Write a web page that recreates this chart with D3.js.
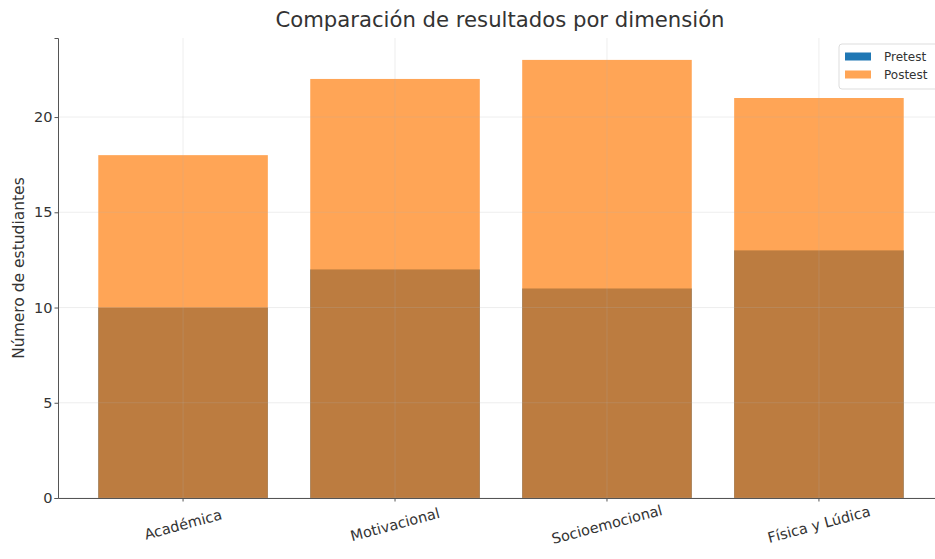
<!DOCTYPE html>
<html>
<head>
<meta charset="utf-8">
<script src="https://cdn.jsdelivr.net/npm/d3@7"></script>
<style>
  body { margin: 0; background: #fff; }
  svg { display: block; font-family: "DejaVu Sans", sans-serif; }
</style>
</head>
<body>
<svg id="chart" width="935" height="559"></svg>
<script>
const categories = ["Académica", "Motivacional", "Socioemocional", "Física y Lúdica"];
const pretest = [10, 12, 11, 13];
const postest = [18, 22, 23, 21];
const yTicks = [0, 5, 10, 15, 20];
const seriesNames = ["Pretest", "Postest"];
const seriesColors = ["#1f77b4", "#ff7f0e"];
const seriesOpacity = [1, 0.7];

const svg = d3.select("#chart");
const margin = { top: 38, right: -9, bottom: 61, left: 58 };
const width = 935 - margin.left - margin.right;
const height = 559 - margin.top - margin.bottom;
const font = "DejaVu Sans, sans-serif";

const g = svg.append("g").attr("transform", `translate(${margin.left},${margin.top})`);

const x = d3.scaleBand().domain(categories).range([0, width]).paddingInner(0.2).paddingOuter(0.19);
const y = d3.scaleLinear().domain([0, 23 * 1.05]).range([height, 0]);

// bars: pretest first, postest drawn over it with transparency
[pretest, postest].forEach((vals, i) => {
    g.append("g").selectAll("rect")
        .data(vals)
        .join("rect")
        .attr("x", (d, j) => x(categories[j]))
        .attr("width", x.bandwidth())
        .attr("y", d => y(d))
        .attr("height", d => height - y(d))
        .attr("fill", seriesColors[i])
        .attr("fill-opacity", seriesOpacity[i]);
});

// faint grid on top
const grid = g.append("g").attr("stroke", "#b0b0b0").attr("stroke-opacity", 0.28).attr("stroke-width", 0.8);
grid.selectAll("line.h")
    .data(yTicks)
    .join("line")
    .attr("class", "h")
    .attr("x1", 0).attr("x2", width)
    .attr("y1", d => y(d)).attr("y2", d => y(d));
grid.selectAll("line.v")
    .data(categories)
    .join("line")
    .attr("class", "v")
    .attr("x1", d => x(d) + x.bandwidth() / 2).attr("x2", d => x(d) + x.bandwidth() / 2)
    .attr("y1", 0).attr("y2", height);

// axes
const yAxis = g.append("g")
    .call(d3.axisLeft(y).tickValues(yTicks).tickSize(3.5).tickPadding(2));
yAxis.attr("font-family", font);
yAxis.select(".domain").attr("stroke", "#555");
yAxis.selectAll(".tick line").attr("stroke", "#555");
yAxis.selectAll(".tick text").attr("font-size", 14.5).attr("fill", "#333");

const xAxis = g.append("g")
    .attr("transform", `translate(0,${height})`)
    .call(d3.axisBottom(x).tickSize(3.5).tickSizeOuter(0));
xAxis.attr("font-family", font);
xAxis.select(".domain").attr("stroke", "#555");
xAxis.selectAll(".tick line").attr("stroke", "#555");
xAxis.selectAll(".tick text")
    .attr("font-size", 14.5)
    .attr("fill", "#333")
    .attr("dy", null)
    .attr("y", 0)
    .attr("text-anchor", "middle")
    .attr("dominant-baseline", "central")
    .attr("transform", "translate(0,26.5) rotate(-15)");

// labels
svg.append("text")
    .attr("transform", `translate(19,${margin.top + height / 2}) rotate(-90)`)
    .attr("text-anchor", "middle")
    .attr("dominant-baseline", "central")
    .attr("font-size", 15.5)
    .attr("fill", "#333")
    .text("Número de estudiantes");

svg.append("text")
    .attr("x", 500)
    .attr("y", 27)
    .attr("text-anchor", "middle")
    .attr("font-size", 21.2)
    .attr("fill", "#333")
    .text("Comparación de resultados por dimensión");

// legend
const legend = svg.append("g").attr("transform", "translate(839,44)");
legend.append("rect")
    .attr("width", 110).attr("height", 45).attr("rx", 3)
    .attr("fill", "#fff").attr("fill-opacity", 0.8)
    .attr("stroke", "#ddd");
seriesNames.forEach((name, i) => {
    const row = legend.append("g").attr("transform", `translate(6,${12.5 + i * 18})`);
    row.append("rect").attr("y", -4).attr("width", 26).attr("height", 8)
        .attr("fill", seriesColors[i]).attr("fill-opacity", seriesOpacity[i]);
    row.append("text").attr("x", 39).attr("y", 0)
        .attr("dominant-baseline", "central")
        .attr("font-size", 12).attr("fill", "#333").text(name);
});
</script>
</body>
</html>
